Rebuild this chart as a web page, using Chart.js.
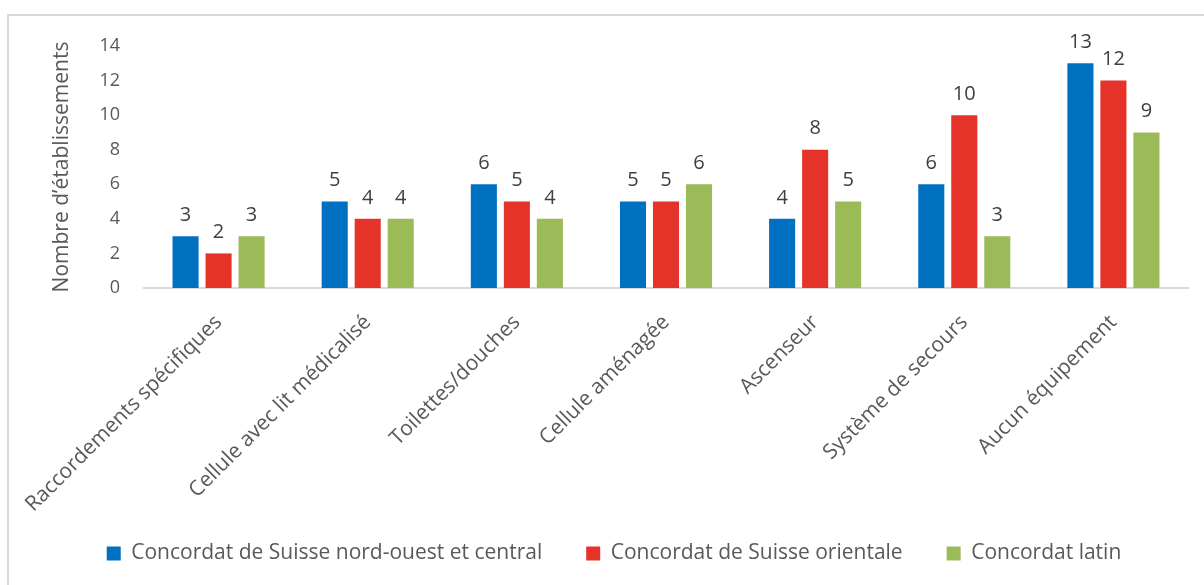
<!DOCTYPE html>
<html>
<head>
<meta charset="utf-8">
<script src="https://cdn.jsdelivr.net/npm/chart.js@4"></script>
<style>
  html, body { margin: 0; padding: 0; background: #fff; overflow: hidden; }
  #frame { position: absolute; left: 7px; top: 14px; width: 1210px; height: 600px; border: 2px solid #d9d9d9; }
  #chart { position: absolute; left: 0; top: 0; }
</style>
</head>
<body>
<div id="frame"></div>
<canvas id="chart" width="1204" height="585"></canvas>
<script>
// Categories and values
const categories = [
    'Raccordements spécifiques',
    'Cellule avec lit médicalisé',
    'Toilettes/douches',
    'Cellule aménagée',
    'Ascenseur',
    'Système de secours',
    'Aucun équipement'
];
const nordOuestCentral = [3, 5, 6, 5, 4, 6, 13];
const suisseOrientale = [2, 4, 5, 5, 8, 10, 12];
const concordatLatin = [3, 4, 4, 6, 5, 3, 9];
const seriesNames = [
    'Concordat de Suisse nord-ouest et central',
    'Concordat de Suisse orientale',
    'Concordat latin'
];
const yTicks = [0, 2, 4, 6, 8, 10, 12, 14];

const FONT = '"Open Sans", sans-serif';
const TEXT = '#595959';

// Draws the value above each bar
const valueLabels = {
    id: 'valueLabels',
    afterDatasetsDraw(chart) {
        const ctx = chart.ctx;
        ctx.save();
        ctx.font = '20px ' + FONT;
        ctx.fillStyle = '#404040';
        ctx.textAlign = 'center';
        ctx.textBaseline = 'middle';
        chart.data.datasets.forEach((ds, i) => {
            chart.getDatasetMeta(i).data.forEach((bar, j) => {
                ctx.fillText(ds.data[j], bar.x, bar.y - 21);
            });
        });
        ctx.restore();
    }
};

function makeDataset(label, data, color) {
    return {
        label: label,
        data: data,
        backgroundColor: color,
        borderWidth: 0,
        categoryPercentage: 0.664,
        barPercentage: 0.79
    };
}

new Chart(document.getElementById('chart'), {
    type: 'bar',
    data: {
        labels: categories,
        datasets: [
            makeDataset(seriesNames[0], nordOuestCentral, '#0070C0'),
            makeDataset(seriesNames[1], suisseOrientale, '#E5332A'),
            makeDataset(seriesNames[2], concordatLatin, '#9BBB59')
        ]
    },
    options: {
        responsive: false,
        animation: false,
        layout: { padding: { left: 40, right: 16, top: 46, bottom: 11 } },
        scales: {
            x: {
                grid: { display: false },
                border: { display: true, color: '#d9d9d9', width: 2 },
                ticks: {
                    color: TEXT,
                    font: { family: FONT, size: 21 },
                    minRotation: 45,
                    maxRotation: 45,
                    padding: 14
                },
                afterFit(scale) {
                    scale.height = 211;
                    // long rotated labels run a bit past the axis box, don't clip them
                    scale._computeLabelArea = () => undefined;
                }
            },
            y: {
                min: 0,
                max: 14,
                afterBuildTicks(scale) { scale.ticks = yTicks.map(v => ({ value: v })); },
                grid: { display: false },
                border: { display: false },
                ticks: {
                    color: TEXT,
                    font: { family: FONT, size: 18 },
                    padding: 16
                },
                title: {
                    display: true,
                    text: 'Nombre d’établissements',
                    color: TEXT,
                    font: { family: FONT, size: 21 },
                    padding: { top: 9, bottom: 10 }
                },
                afterFit(scale) { scale.width = 104; }
            }
        },
        plugins: {
            legend: {
                position: 'bottom',
                labels: {
                    color: TEXT,
                    font: { family: FONT, size: 21 },
                    boxWidth: 14,
                    boxHeight: 14,
                    padding: 44
                }
            },
            tooltip: { enabled: false }
        }
    },
    plugins: [valueLabels]
});
</script>
</body>
</html>
